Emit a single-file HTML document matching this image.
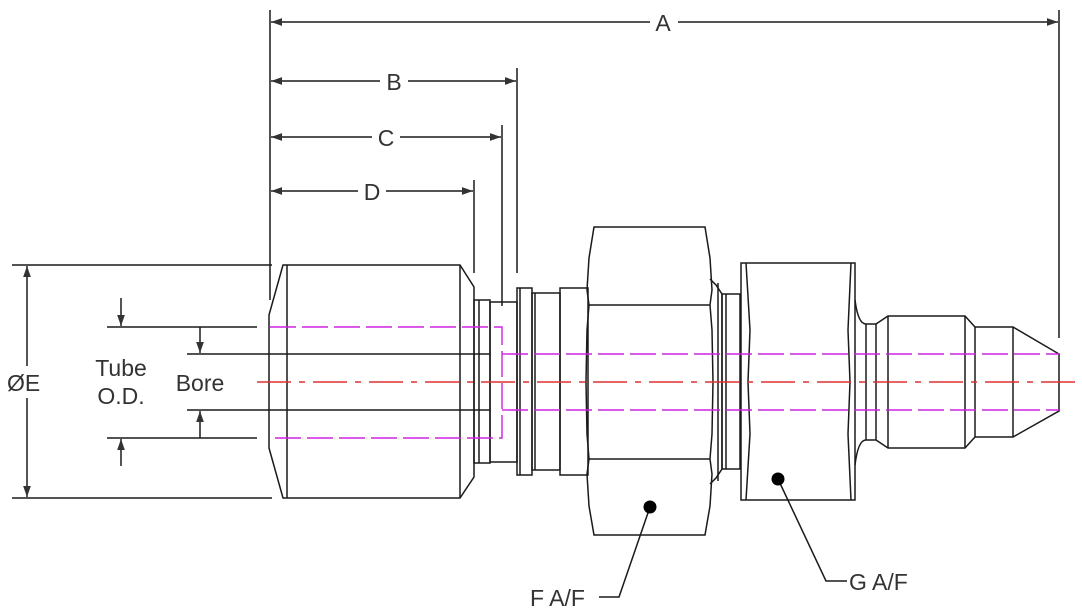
<!DOCTYPE html>
<html><head><style>html,body{margin:0;padding:0;background:#fff}svg{display:block}</style></head>
<body>
<svg width="1082" height="611" viewBox="0 0 1082 611" xmlns="http://www.w3.org/2000/svg" font-family="Liberation Sans, sans-serif">
<defs>
<marker id="ar" viewBox="0 0 10 10" refX="10" refY="5" markerWidth="11" markerHeight="11" markerUnits="userSpaceOnUse" orient="auto-start-reverse"><path d="M0,1.5 L10,5 L0,8.5z" fill="#333"/></marker>
<marker id="ar2" viewBox="0 0 10 10" refX="10" refY="5" markerWidth="11" markerHeight="11" markerUnits="userSpaceOnUse" orient="auto"><path d="M0,1.5 L10,5 L0,8.5z" fill="#333"/></marker>
</defs>
<g stroke="#1a1a1a" stroke-width="1.5" fill="none">
<line x1="270" y1="10" x2="270" y2="300"/>
<line x1="517" y1="68" x2="517" y2="273"/>
<line x1="502" y1="125" x2="502" y2="306"/>
<line x1="474" y1="180" x2="474" y2="273"/>
<line x1="1059" y1="10" x2="1059" y2="338"/>
<line x1="12" y1="265" x2="272" y2="265"/>
<line x1="12" y1="498" x2="272" y2="498"/>
<line x1="107" y1="327" x2="257" y2="327"/>
<line x1="107" y1="438" x2="257" y2="438"/>
<line x1="187" y1="354" x2="490" y2="354"/>
<line x1="187" y1="410" x2="490" y2="410"/>
<line x1="271" y1="22" x2="650" y2="22" marker-start="url(#ar)"/>
<line x1="678" y1="22" x2="1058" y2="22" marker-end="url(#ar)"/>
<line x1="271" y1="81" x2="380" y2="81" marker-start="url(#ar)"/>
<line x1="408" y1="81" x2="516" y2="81" marker-end="url(#ar)"/>
<line x1="271" y1="137" x2="372" y2="137" marker-start="url(#ar)"/>
<line x1="400" y1="137" x2="501" y2="137" marker-end="url(#ar)"/>
<line x1="271" y1="191" x2="358" y2="191" marker-start="url(#ar)"/>
<line x1="386" y1="191" x2="473" y2="191" marker-end="url(#ar)"/>
<line x1="27" y1="266" x2="27" y2="366" marker-start="url(#ar)"/>
<line x1="27" y1="398" x2="27" y2="497" marker-end="url(#ar)"/>
<line x1="121" y1="298" x2="121" y2="326" marker-end="url(#ar2)"/>
<line x1="121" y1="466" x2="121" y2="439" marker-end="url(#ar2)"/>
<line x1="200" y1="327" x2="200" y2="353" marker-end="url(#ar2)"/>
<line x1="200" y1="438" x2="200" y2="411" marker-end="url(#ar2)"/>
<path d="M283,265 L460,265 L474,287 L474,477 L460,498 L283,498 L269,448 L269,315 Z"/>
<line x1="287" y1="265" x2="287" y2="498"/>
<line x1="460" y1="265" x2="460" y2="498"/>
<rect x="474" y="300" width="16" height="163"/>
<line x1="479" y1="300" x2="479" y2="463"/>
<rect x="490" y="302" width="27" height="160"/>
<rect x="517" y="288" width="15" height="187"/>
<line x1="520" y1="288" x2="520" y2="475"/>
<rect x="532" y="293" width="28" height="177"/>
<line x1="535" y1="293" x2="535" y2="470"/>
<rect x="560" y="288" width="28" height="187"/>
<path d="M594,227 L705,227 L710,258 L712,290 L710,305 L712,330 L713,382 L712,434 L710,459 L712,474 L710,506 L705,535 L594,535 L589,506 L587,474 L589,459 L587,434 L586,382 L587,330 L589,305 L587,290 L589,258 Z"/>
<line x1="589" y1="305" x2="710" y2="305"/>
<line x1="589" y1="459" x2="710" y2="459"/>
<path d="M710,279 L716,285 L722,294 L722,469 L716,478 L710,484"/>
<line x1="718" y1="283" x2="718" y2="481"/>
<rect x="722" y="294" width="18" height="175"/>
<line x1="726" y1="294" x2="726" y2="469"/>
<rect x="741" y="263" width="114" height="237"/>
<path d="M746,263 L750,330 L748,382 L750,434 L746,500"/>
<path d="M851,263 L848,330 L850,382 L848,434 L851,500"/>
<path d="M855,300 Q858,324 866,324 L876,324 L888,316 L965,316 L975,327 L1013,327 L1059,354 L1059,411 L1013,437 L975,437 L965,448 L888,448 L876,440 L866,440 Q858,440 855,465"/>
<line x1="866" y1="324" x2="866" y2="440"/>
<line x1="876" y1="324" x2="876" y2="440"/>
<line x1="888" y1="316" x2="888" y2="448"/>
<line x1="965" y1="316" x2="965" y2="448"/>
<line x1="975" y1="327" x2="975" y2="437"/>
<line x1="1013" y1="327" x2="1013" y2="437"/>
<polyline points="650,507 619,597 599,597"/>
<polyline points="778,479 826,581 847,581"/>
</g>
<circle cx="650" cy="507" r="6.5" fill="#000"/>
<circle cx="778" cy="479" r="6.5" fill="#000"/>
<g stroke="#d020e0" stroke-width="1.4" fill="none" stroke-dasharray="26,6">
<polyline points="270,327 502,327 502,438 270,438"/>
<line x1="502" y1="354" x2="1059" y2="354"/>
<line x1="502" y1="410" x2="1059" y2="410"/>
</g>
<line x1="257" y1="382" x2="1082" y2="382" stroke="#e03030" stroke-width="1.4" stroke-dasharray="34,8,6,8"/>
<g fill="#333" font-size="23">
<text x="663" y="31" text-anchor="middle">A</text>
<text x="394" y="90" text-anchor="middle">B</text>
<text x="386" y="146" text-anchor="middle">C</text>
<text x="372" y="200" text-anchor="middle">D</text>
<text x="7" y="391">ØE</text>
<text x="121" y="376" text-anchor="middle">Tube</text>
<text x="121" y="404" text-anchor="middle">O.D.</text>
<text x="200" y="391" text-anchor="middle">Bore</text>
<text x="530" y="606">F A/F</text>
<text x="849" y="590">G A/F</text>
</g>
</svg>
</body></html>
